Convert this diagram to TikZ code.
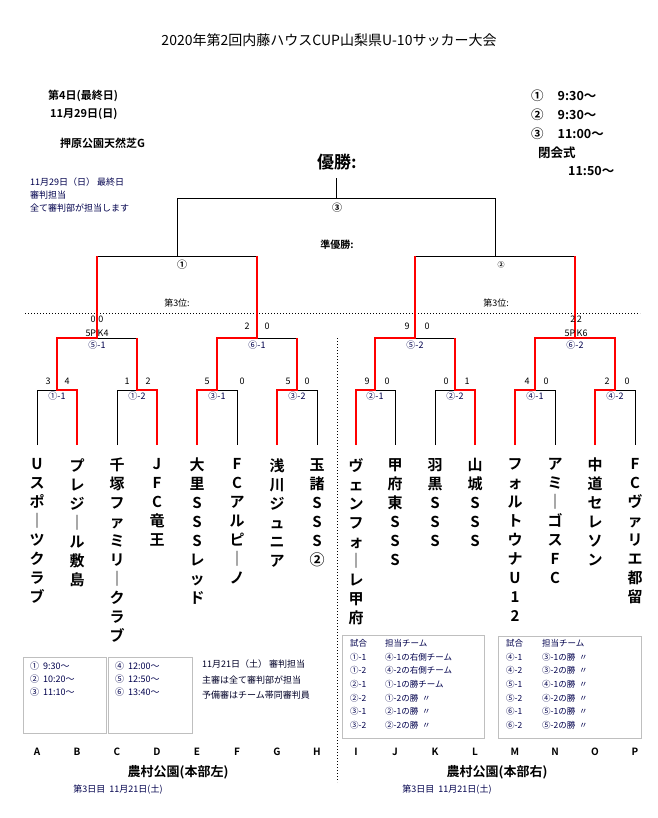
\documentclass[tikz,border=0pt]{standalone}
\usepackage{fontspec}
\setmainfont{Noto Sans CJK JP}
\newfontfamily\jpbold{Noto Sans CJK JP Bold}
\tikzset{
  % bracket lines
  bline/.style={black,line width=0.8pt},
  wline/.style={red,line width=1.6pt},
  % texts
  team/.style={font=\jpbold\fontsize{15}{19}\selectfont,align=center,anchor=north,inner sep=0pt},
  score/.style={font=\fontsize{9}{9}\selectfont,inner sep=0pt},
  mlabel/.style={font=\fontsize{9}{9}\selectfont,text=blue!30!black,inner sep=0pt},
  note/.style={font=\fontsize{9}{13}\selectfont,text=blue!30!black,align=left,anchor=north west,inner sep=0pt},
  head/.style={font=\jpbold\fontsize{11}{14}\selectfont,anchor=west,inner sep=0pt},
  col/.style={font=\jpbold\fontsize{10}{10}\selectfont,inner sep=0pt},
  infobox/.style={draw=black!25,line width=0.6pt}
}
\begin{document}
\begin{tikzpicture}[x=1pt,y=-1pt]
  \useasboundingbox (0,0) rectangle (657,818);
  % title
  \node[font=\fontsize{14}{14}\selectfont] (title) at (329,40) {2020年第2回内藤ハウスCUP山梨県U-10サッカー大会};
  \node[head] (day) at (48,96) {第4日(最終日)};
  \node[head] (date) at (50,114) {11月29日(日)};
  \node[head] (place) at (60,143) {押原公園天然芝G};
  \node[head,font=\jpbold\fontsize{12.5}{14}\selectfont] (t1) at (531,96) {①\hspace{14pt}9:30～};
  \node[head,font=\jpbold\fontsize{12.5}{14}\selectfont] (t2) at (531,115) {②\hspace{14pt}9:30～};
  \node[head,font=\jpbold\fontsize{12.5}{14}\selectfont] (t3) at (531,134) {③\hspace{14pt}11:00～};
  \node[head,font=\jpbold\fontsize{12.5}{14}\selectfont] (close) at (538,153) {閉会式};
  \node[head,font=\jpbold\fontsize{12.5}{14}\selectfont] (ctime) at (568,171) {11:50～};
  \node[note] (ref) at (30,178) {11月29日（日）\ 最終日\\審判担当\\全て審判部が担当します};
  % results
  \node[font=\jpbold\fontsize{17}{17}\selectfont] (champ) at (337,162) {優勝:};
  \node[font=\jpbold\fontsize{10}{10}\selectfont] (second) at (337,245) {準優勝:};
  \node[font=\fontsize{9}{9}\selectfont] (thirdL) at (177,303) {第3位:};
  \node[font=\fontsize{9}{9}\selectfont] (thirdR) at (496,303) {第3位:};
  % dotted separators
  \draw[dotted,line width=1pt] (25,313) -- (640,313);
  \draw[dotted,line width=1pt] (337,338) -- (337,782);
  % team tops
  \foreach \n/\x in {A/37,B/77,C/117,D/157,E/197,F/237,G/277,H/317,I/356,J/395,K/435,L/475,M/515,N/555,O/595,P/635}
    \coordinate (t\n) at (\x,445);
  % black brackets: first round
  \foreach \a/\b in {A/B,C/D,E/F,G/H,I/J,K/L,M/N,O/P}
    \draw[bline] (t\a) -- ++(0,-55) -| (t\b);
  % second round
  \draw[bline] (57,390) -- (57,338) -- (137,338) -- (137,390);
  \draw[bline] (217,390) -- (217,338) -- (297,338) -- (297,390);
  \draw[bline] (375,390) -- (375,338) -- (455,338) -- (455,390);
  \draw[bline] (535,390) -- (535,338) -- (615,338) -- (615,390);
  % semis and final
  \draw[bline] (97,338) -- (97,256) -- (257,256) -- (257,338);
  \draw[bline] (415,338) -- (415,256) -- (575,256) -- (575,338);
  \draw[bline] (177,256) -- (177,198) -- (495,198) -- (495,256);
  \draw[bline] (336,198) -- (336,178);
  % winners
  \draw[wline] (tB) -- (77,390) -- (57,390) -- (57,338) -- (97,338) -- (97,256);
  \draw[wline] (tD) -- (157,390) -- (137,390) -- (137,338);
  \draw[wline] (tE) -- (197,390) -- (217,390) -- (217,338) -- (257,338) -- (257,256);
  \draw[wline] (tG) -- (277,390) -- (297,390) -- (297,338);
  \draw[wline] (tI) -- (356,390) -- (375,390) -- (375,338) -- (415,338) -- (415,256);
  \draw[wline] (tL) -- (475,390) -- (455,390) -- (455,338);
  \draw[wline] (tM) -- (515,390) -- (535,390) -- (535,338) -- (575,338);
  \draw[wline] (tO) -- (595,390) -- (615,390) -- (615,338) -- (575,338) -- (575,256);
  % match labels
  \node[mlabel] (m11) at (57,396) {①-1};
  \node[mlabel] (m12) at (137,396) {①-2};
  \node[mlabel] (m31) at (217,396) {③-1};
  \node[mlabel] (m32) at (297,396) {③-2};
  \node[mlabel] (m21) at (375,396) {②-1};
  \node[mlabel] (m22) at (455,396) {②-2};
  \node[mlabel] (m41) at (535,396) {④-1};
  \node[mlabel] (m42) at (615,396) {④-2};
  \node[mlabel] (m51) at (97,345) {⑤-1};
  \node[mlabel] (m61) at (257,345) {⑥-1};
  \node[mlabel] (m52) at (415,345) {⑤-2};
  \node[mlabel] (m62) at (575,345) {⑥-2};
  \node[font=\jpbold\fontsize{10}{10}\selectfont] (f1) at (182,265) {①};
  \node[font=\jpbold\fontsize{7}{7}\selectfont] (f2) at (501,265) {②};
  \node[font=\jpbold\fontsize{10}{10}\selectfont] (f3) at (337,208) {③};
  % scores
  \foreach \x/\s in {48/3,67/4,127/1,148/2,207/5,242/0,288/5,307/0,367/9,387/0,446/0,467/1,527/4,546/0,607/2,627/0}
    \node[score] at (\x,381) {\s};
  \foreach \x/\s in {247/2,267/0,407/9,427/0}
    \node[score] at (\x,326) {\s};
  \node[score] (s51) at (97,319) {0\,\,0};
  \node[score] (pk51) at (97,333) {5P\,K4};
  \node[score] (s62) at (576,319) {2\,2};
  \node[score] (pk62) at (576,333) {5P\,K6};
  % teams
  \node[team] (nA) at (37,458) {U\\ス\\ポ\\｜\\ツ\\ク\\ラ\\ブ};
  \node[team] (nB) at (77,458) {プ\\レ\\ジ\\｜\\ル\\敷\\島};
  \node[team] (nC) at (117,458) {千\\塚\\フ\\ァ\\ミ\\リ\\｜\\ク\\ラ\\ブ};
  \node[team] (nD) at (157,458) {J\\F\\C\\竜\\王};
  \node[team] (nE) at (197,458) {大\\里\\S\\S\\S\\レ\\ッ\\ド};
  \node[team] (nF) at (237,458) {F\\C\\ア\\ル\\ピ\\｜\\ノ};
  \node[team] (nG) at (277,458) {浅\\川\\ジ\\ュ\\ニ\\ア};
  \node[team] (nH) at (317,458) {玉\\諸\\S\\S\\S\\②};
  \node[team] (nI) at (356,458) {ヴ\\ェ\\ン\\フ\\ォ\\｜\\レ\\甲\\府};
  \node[team] (nJ) at (395,458) {甲\\府\\東\\S\\S\\S};
  \node[team] (nK) at (435,458) {羽\\黒\\S\\S\\S};
  \node[team] (nL) at (475,458) {山\\城\\S\\S\\S};
  \node[team] (nM) at (515,458) {フ\\ォ\\ル\\ト\\ウ\\ナ\\U\\1\\2};
  \node[team] (nN) at (555,458) {ア\\ミ\\｜\\ゴ\\ス\\F\\C};
  \node[team] (nO) at (595,458) {中\\道\\セ\\レ\\ソ\\ン};
  \node[team] (nP) at (635,458) {F\\C\\ヴ\\ァ\\リ\\エ\\都\\留};
  % info boxes
  \draw[infobox] (23,657) rectangle (106,733);
  \draw[infobox] (108,657) rectangle (192,733);
  \node[note] (timesA) at (30,662) {①\ \ 9:30～\\②\ \ 10:20～\\③\ \ 11:10～};
  \node[note] (timesB) at (115,662) {④\ \ 12:00～\\⑤\ \ 12:50～\\⑥\ \ 13:40～};
  \node[note,font=\fontsize{9}{15.5}\selectfont,text=black!85!blue] (refL) at (202,660) {11月21日（土）\ 審判担当\\主審は全て審判部が担当\\予備審はチーム帯同審判員};
  \draw[infobox] (342,635) rectangle (484,738);
  \draw[infobox] (498,636) rectangle (641,738);
  \node[note,font=\fontsize{8.5}{13.7}\selectfont] (dutyL) at (350,639) {試合\\①-1\\①-2\\②-1\\②-2\\③-1\\③-2};
  \node[note,font=\fontsize{8.5}{13.7}\selectfont] (teamL) at (385,639) {担当チーム\\④-1の右側チーム\\④-2の右側チーム\\①-1の勝チーム\\①-2の勝\ \ 〃\\②-1の勝\ \ 〃\\②-2の勝\ \ 〃};
  \node[note,font=\fontsize{8.5}{13.7}\selectfont] (dutyR) at (506,639) {試合\\④-1\\④-2\\⑤-1\\⑤-2\\⑥-1\\⑥-2};
  \node[note,font=\fontsize{8.5}{13.7}\selectfont] (teamR) at (542,639) {担当チーム\\③-1の勝\ \ 〃\\③-2の勝\ \ 〃\\④-1の勝\ \ 〃\\④-2の勝\ \ 〃\\⑤-1の勝\ \ 〃\\⑤-2の勝\ \ 〃};
  % column letters
  \foreach \n/\x in {A/37,B/77,C/117,D/157,E/197,F/237,G/277,H/317,I/356,J/395,K/435,L/475,M/515,N/555,O/595,P/635}
    \node[col] (c\n) at (\x,752) {\n};
  \node[font=\jpbold\fontsize{13}{13}\selectfont] (siteL) at (178,772) {農村公園(本部左)};
  \node[font=\jpbold\fontsize{13}{13}\selectfont] (siteR) at (497,772) {農村公園(本部右)};
  \node[font=\fontsize{9}{9}\selectfont,text=blue!30!black] (dayL) at (118,790) {第3日目\ \ 11月21日(土)};
  \node[font=\fontsize{9}{9}\selectfont,text=blue!30!black] (dayR) at (447,790) {第3日目\ \ 11月21日(土)};
\end{tikzpicture}
\end{document}
